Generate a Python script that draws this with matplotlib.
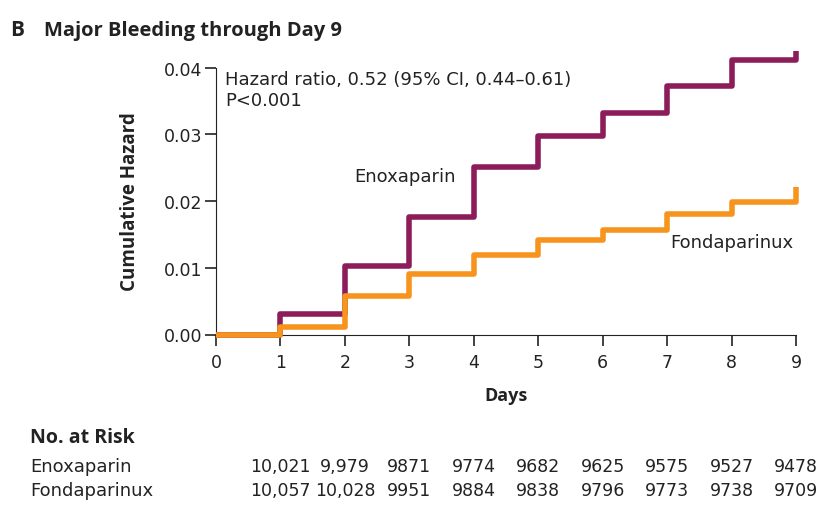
import numpy as np
import matplotlib.pyplot as plt

# data
days = [0, 1, 2, 3, 4, 5, 6, 7, 8, 9]
enox = [0.0, 0.0031, 0.0102, 0.0176, 0.0251, 0.0297, 0.0332, 0.0372, 0.0411, 0.0424]
fonda = [0.0, 0.0011, 0.0057, 0.0090, 0.0119, 0.0141, 0.0156, 0.0180, 0.0199, 0.0221]
risk_days = [1, 2, 3, 4, 5, 6, 7, 8, 9]
risk_enox = ['10,021', '9,979', '9871', '9774', '9682', '9625', '9575', '9527', '9478']
risk_fonda = ['10,057', '10,028', '9951', '9884', '9838', '9796', '9773', '9738', '9709']

narrow = ['DejaVu Sans']
boldf = ['Open Sans', 'DejaVu Sans']
txt = '#222222'
c_enox = '#8c1d5a'
c_fonda = '#f7941d'

fig = plt.figure(figsize=(8.33, 5.06), dpi=100)
ax = fig.add_axes([216/833, 1 - 335.5/506, 580/833, 267/506])

ax.step(days, enox, where='post', color=c_enox, lw=4, clip_on=False, solid_capstyle='butt', zorder=3)
ax.step(days, fonda, where='post', color=c_fonda, lw=4, clip_on=False, solid_capstyle='butt', zorder=4)

ax.set_xlim(0, 9)
ax.set_ylim(0, 0.04)
ax.spines['top'].set_visible(False)
ax.spines['right'].set_visible(False)
ax.spines['left'].set_color(txt)
ax.spines['bottom'].set_color(txt)
ax.set_xticks(days)
ax.set_yticks([0, 0.01, 0.02, 0.03, 0.04])
ax.set_yticklabels(['0.00', '0.01', '0.02', '0.03', '0.04'])
ax.tick_params(direction='out', length=8, width=1.2, colors=txt, labelsize=12.5)
ax.tick_params(axis='x', pad=5)
ax.tick_params(axis='y', pad=2)
for lab in ax.get_xticklabels() + ax.get_yticklabels():
    lab.set_family(narrow)

ax.set_ylabel('Cumulative Hazard', family=boldf, fontweight='bold', fontsize=13.5, color=txt, labelpad=17)
ax.set_xlabel('Days', family=boldf, fontweight='bold', fontsize=13, color=txt, labelpad=11)

ax.text(0.14, 0.0397, 'Hazard ratio, 0.52 (95% CI, 0.44\u20130.61)\nP<0.001', family=narrow,
        fontsize=13, color=txt, va='top', ha='left', linespacing=1.25)
ax.text(2.14, 0.0238, 'Enoxaparin', family=narrow, fontsize=13, color=txt, va='center', ha='left')
ax.text(7.05, 0.0139, 'Fondaparinux', family=narrow, fontsize=13, color=txt, va='center', ha='left')

fig.text(10/833, 1 - 31/506, 'B', family=boldf, fontweight='bold', fontsize=15, color=txt, va='center')
fig.text(44/833, 1 - 31/506, 'Major Bleeding through Day 9', family=boldf, fontweight='bold',
         fontsize=14.5, color=txt, va='center')

fig.text(30/833, 1 - 438/506, 'No. at Risk', family=boldf, fontweight='bold', fontsize=14, color=txt, va='center')
tr = ax.get_xaxis_transform()
for y, name, vals in [(467, 'Enoxaparin', risk_enox), (491, 'Fondaparinux', risk_fonda)]:
    fig.text(30/833, 1 - y/506, name, family=narrow, fontsize=13, color=txt, va='center')
    yy = (335.5 - y) / 267
    for d, v in zip(risk_days, vals):
        ax.text(d, yy, v, transform=tr, family=narrow, fontsize=12.5, color=txt,
                ha='center', va='center', clip_on=False)

fig.savefig('out.png', dpi=100)
